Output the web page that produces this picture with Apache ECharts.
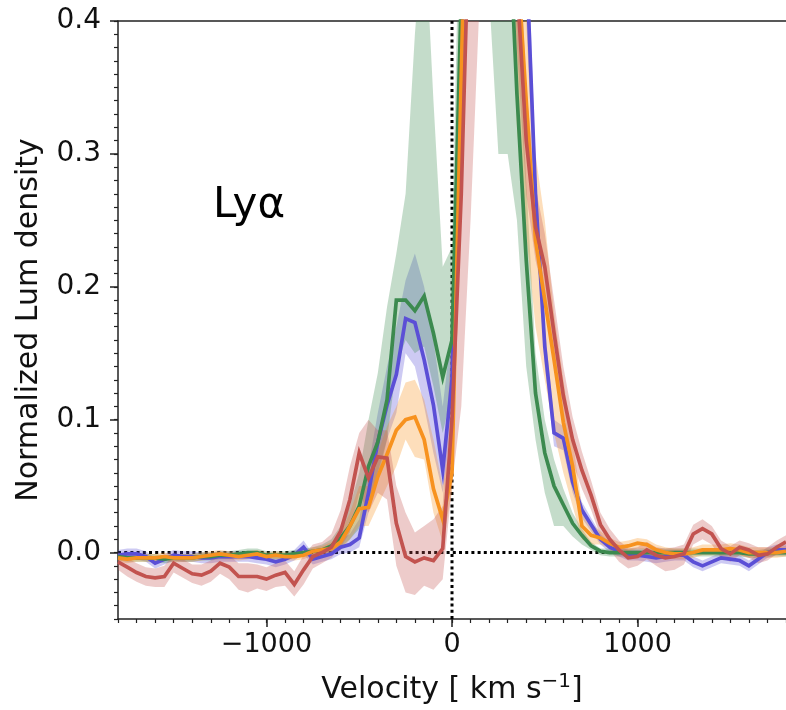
<!DOCTYPE html>
<html><head><meta charset="utf-8">
<script src="https://cdn.jsdelivr.net/npm/echarts@6/dist/echarts.min.js"></script>
<style>html,body{margin:0;padding:0;background:#fff}#c{width:786px;height:710px}</style>
</head><body><div id="c"></div>
<script>
// velocity grid (km/s), step 50
const velocity = [-1800,-1750,-1700,-1650,-1600,-1550,-1500,-1450,-1400,-1350,-1300,-1250,-1200,-1150,-1100,-1050,-1000,-950,-900,-850,-800,-750,-700,-650,-600,-550,-500,-450,-400,-350,-300,-250,-200,-150,-100,-50,0,50,100,150,200,250,300,350,400,450,500,550,600,650,700,750,800,850,900,950,1000,1050,1100,1150,1200,1250,1300,1350,1400,1450,1500,1550,1600,1650,1700,1750,1800];

const blueVal = [-0.002,-0.001,-0.001,-0.003,-0.008,-0.005,-0.002,-0.003,-0.003,-0.004,-0.004,-0.003,-0.003,-0.003,-0.003,-0.004,-0.005,-0.007,-0.005,-0.002,0.004,-0.005,-0.003,-0.001,0.004,0.006,0.011,0.045,0.083,0.111,0.134,0.176,0.173,0.145,0.111,0.062,0.130,0.380,0.650,0.850,0.950,1.000,0.850,0.650,0.450,0.270,0.155,0.090,0.086,0.053,0.032,0.021,0.010,0.004,0.001,-0.002,-0.002,-0.003,-0.004,-0.003,-0.002,-0.002,-0.007,-0.010,-0.007,-0.004,-0.005,-0.006,-0.010,-0.005,0.000,0.002,0.002];
const blueLo = [-0.006,-0.005,-0.005,-0.007,-0.012,-0.009,-0.006,-0.007,-0.007,-0.008,-0.008,-0.007,-0.007,-0.007,-0.007,-0.008,-0.009,-0.011,-0.009,-0.006,-0.001,-0.009,-0.007,-0.005,-0.001,0.000,0.004,0.030,0.060,0.085,0.105,0.150,0.140,0.110,0.075,0.045,0.100,0.300,0.550,0.750,0.880,0.950,0.800,0.600,0.400,0.250,0.140,0.080,0.077,0.045,0.026,0.016,0.006,0.000,-0.003,-0.006,-0.006,-0.007,-0.008,-0.007,-0.006,-0.006,-0.011,-0.014,-0.011,-0.008,-0.009,-0.010,-0.014,-0.009,-0.004,-0.002,-0.002];
const blueHi = [0.002,0.003,0.003,0.001,-0.004,-0.001,0.002,0.001,0.001,0.000,0.000,0.001,0.001,0.001,0.001,0.000,-0.001,-0.003,-0.001,0.002,0.009,-0.001,0.001,0.004,0.010,0.014,0.025,0.065,0.105,0.140,0.170,0.205,0.225,0.200,0.160,0.110,0.170,0.450,0.750,0.950,1.020,1.050,0.900,0.700,0.500,0.290,0.170,0.100,0.095,0.060,0.038,0.026,0.014,0.008,0.005,0.002,0.002,0.001,0.000,0.001,0.002,0.002,-0.003,-0.006,-0.003,0.000,-0.001,-0.002,-0.006,-0.001,0.004,0.006,0.006];

const greenVal = [-0.003,-0.004,-0.004,-0.004,-0.004,-0.005,-0.004,-0.004,-0.004,-0.003,-0.003,-0.002,-0.002,-0.001,0.000,0.000,-0.002,-0.002,-0.002,-0.001,0.000,0.001,0.002,0.005,0.011,0.020,0.035,0.065,0.083,0.115,0.190,0.190,0.182,0.193,0.165,0.132,0.160,0.420,0.700,0.900,1.000,0.850,0.500,0.345,0.220,0.120,0.075,0.050,0.036,0.022,0.013,0.005,0.001,0.000,0.000,0.000,0.000,0.000,0.000,0.000,0.000,0.000,0.000,0.000,0.000,0.000,0.000,0.000,-0.001,-0.001,0.000,0.000,0.000];
const greenLo = [-0.006,-0.007,-0.007,-0.007,-0.007,-0.008,-0.007,-0.007,-0.007,-0.006,-0.006,-0.005,-0.005,-0.004,-0.003,-0.003,-0.005,-0.005,-0.005,-0.004,-0.003,-0.002,-0.001,0.000,0.004,0.010,0.018,0.040,0.055,0.085,0.140,0.160,0.150,0.155,0.125,0.090,0.120,0.300,0.550,0.700,0.420,0.300,0.300,0.250,0.140,0.085,0.045,0.020,0.020,0.012,0.006,0.002,-0.002,-0.003,-0.003,-0.003,-0.003,-0.003,-0.003,-0.003,-0.003,-0.003,-0.003,-0.003,-0.003,-0.003,-0.003,-0.003,-0.004,-0.004,-0.003,-0.003,-0.003];
const greenHi = [0.000,-0.001,-0.001,-0.001,-0.001,-0.002,-0.001,-0.001,-0.001,0.000,0.000,0.001,0.001,0.002,0.003,0.003,0.001,0.001,0.001,0.002,0.003,0.004,0.006,0.010,0.020,0.035,0.060,0.100,0.135,0.185,0.225,0.270,0.390,0.480,0.340,0.215,0.230,0.550,0.850,1.000,1.050,1.000,0.700,0.420,0.280,0.150,0.100,0.070,0.048,0.030,0.018,0.008,0.003,0.003,0.003,0.003,0.003,0.003,0.003,0.003,0.003,0.003,0.003,0.003,0.003,0.003,0.003,0.003,0.002,0.002,0.003,0.003,0.003];

const orangeVal = [-0.004,-0.005,-0.004,-0.004,-0.004,-0.003,-0.004,-0.004,-0.004,-0.003,-0.002,-0.001,-0.002,-0.003,-0.002,-0.001,-0.003,-0.002,-0.003,-0.003,-0.002,0.001,0.002,0.003,0.008,0.020,0.033,0.034,0.057,0.074,0.092,0.100,0.102,0.085,0.048,0.025,0.060,0.360,0.650,0.900,1.000,0.950,0.750,0.450,0.340,0.235,0.190,0.145,0.098,0.065,0.020,0.013,0.011,0.007,0.004,0.005,0.007,0.006,0.002,0.000,-0.001,-0.001,0.000,0.002,0.002,0.002,0.003,0.002,0.000,0.000,0.000,0.000,0.001];
const orangeLo = [-0.007,-0.008,-0.007,-0.007,-0.007,-0.006,-0.007,-0.007,-0.007,-0.006,-0.005,-0.004,-0.005,-0.006,-0.005,-0.004,-0.006,-0.005,-0.006,-0.006,-0.005,-0.002,-0.001,-0.001,0.002,0.010,0.020,0.020,0.035,0.050,0.065,0.085,0.072,0.070,0.030,0.008,0.045,0.280,0.550,0.800,0.900,0.800,0.550,0.320,0.240,0.170,0.130,0.090,0.060,0.035,0.010,0.006,0.006,0.003,0.000,0.001,0.003,0.002,-0.002,-0.004,-0.005,-0.005,-0.004,-0.002,-0.002,-0.002,-0.001,-0.002,-0.004,-0.004,-0.004,-0.004,-0.003];
const orangeHi = [-0.001,-0.002,-0.001,-0.001,-0.001,0.000,-0.001,-0.001,-0.001,0.000,0.001,0.002,0.001,0.000,0.001,0.002,0.000,0.001,0.000,0.000,0.001,0.004,0.005,0.008,0.015,0.030,0.050,0.050,0.075,0.095,0.110,0.128,0.130,0.115,0.085,0.050,0.090,0.450,0.750,1.000,1.050,1.020,0.850,0.550,0.420,0.300,0.250,0.180,0.130,0.085,0.035,0.022,0.016,0.011,0.008,0.009,0.011,0.010,0.006,0.004,0.003,0.003,0.004,0.006,0.006,0.006,0.007,0.006,0.004,0.004,0.004,0.004,0.005];

const redVal = [-0.007,-0.011,-0.015,-0.018,-0.019,-0.018,-0.008,-0.012,-0.016,-0.017,-0.014,-0.008,-0.011,-0.018,-0.018,-0.018,-0.020,-0.017,-0.015,-0.024,-0.013,-0.003,0.000,0.004,0.016,0.040,0.075,0.056,0.072,0.071,0.022,-0.003,-0.007,-0.004,-0.006,0.003,0.100,0.270,0.520,0.800,0.950,0.900,0.700,0.430,0.310,0.245,0.215,0.165,0.118,0.085,0.062,0.043,0.021,0.010,0.002,-0.004,-0.003,0.002,-0.002,-0.004,-0.003,-0.001,0.014,0.018,0.014,0.003,-0.001,0.004,0.002,-0.002,-0.001,0.004,0.008];
const redLo = [-0.013,-0.018,-0.022,-0.025,-0.026,-0.026,-0.015,-0.019,-0.023,-0.025,-0.022,-0.016,-0.020,-0.028,-0.030,-0.027,-0.029,-0.026,-0.025,-0.033,-0.024,-0.012,-0.008,-0.004,0.004,0.015,0.045,0.030,0.045,0.040,-0.010,-0.030,-0.032,-0.025,-0.028,-0.020,0.050,0.110,0.250,0.420,0.650,0.700,0.550,0.380,0.270,0.220,0.190,0.140,0.095,0.068,0.048,0.032,0.012,0.002,-0.007,-0.012,-0.010,-0.005,-0.010,-0.014,-0.013,-0.009,0.006,0.010,0.006,-0.004,-0.007,-0.002,-0.004,-0.008,-0.006,-0.001,0.003];
const redHi = [0.000,-0.004,-0.008,-0.011,-0.012,-0.010,-0.001,-0.005,-0.009,-0.009,-0.006,0.000,-0.002,-0.008,-0.008,-0.009,-0.011,-0.008,-0.006,-0.014,-0.002,0.006,0.008,0.014,0.032,0.065,0.090,0.100,0.092,0.092,0.050,0.030,0.015,0.020,0.025,0.035,0.170,0.420,0.700,0.950,1.000,1.000,0.850,0.500,0.350,0.275,0.240,0.190,0.140,0.102,0.076,0.054,0.030,0.018,0.009,0.003,0.004,0.008,0.004,0.003,0.004,0.006,0.021,0.025,0.020,0.009,0.005,0.009,0.007,0.004,0.004,0.009,0.013];

const xTickLabels = [-1000, 0, 1000];
const yTickLabels = [0, 0.1, 0.2, 0.3, 0.4];

const COLORS = {blue:'#5b4fd6', green:'#3c8a4f', orange:'#f7921f', red:'#c2534f'};
const FONT = 'DejaVu Sans';

function bandSeries(lo, hi, color) {
  return {
    type: 'custom', xAxisIndex: 0, yAxisIndex: 0, silent: true, z: 2,
    data: [[0, 0]],
    renderItem: function (params, api) {
      const pts = [];
      for (let i = 0; i < velocity.length; i++) pts.push(api.coord([velocity[i], hi[i]]));
      for (let i = velocity.length - 1; i >= 0; i--) pts.push(api.coord([velocity[i], lo[i]]));
      const cs = params.coordSys;
      return {
        type: 'polygon', shape: {points: pts},
        style: {fill: color, opacity: 0.3},
        clipPath: {type: 'rect', shape: {x: cs.x, y: cs.y, width: cs.width, height: cs.height}}
      };
    }
  };
}
function lineSeries(vals, color) {
  return {
    type: 'line', xAxisIndex: 0, yAxisIndex: 0, z: 3,
    data: velocity.map((v, i) => [v, vals[i]]),
    showSymbol: false, symbol: 'none', clip: true,
    lineStyle: {color: color, width: 3.7, join: 'miter'}
  };
}
const dotted = {type: [3, 3.2], color: '#000', width: 3};

const chart = echarts.init(document.getElementById('c'), null, {renderer: 'canvas'});
chart.setOption({
  animation: false,
  backgroundColor: '#fff',
  grid: {left: 118, top: 21, width: 673, height: 602, containLabel: false},
  xAxis: [
    {type: 'value', min: -1800, max: 1800, interval: 100, position: 'bottom',
     axisLine: {show: true, onZero: false, lineStyle: {color: '#222', width: 1.5}},
     axisTick: {show: true, inside: false, length: 4, lineStyle: {color: '#222', width: 1.2}},
     axisLabel: {show: false}, splitLine: {show: false}},
    {type: 'value', min: -1800, max: 1800, position: 'bottom',
     axisLine: {show: false, onZero: false},
     axisTick: {show: true, length: 8, customValues: xTickLabels, lineStyle: {color: '#222', width: 1.5}},
     axisLabel: {show: true, customValues: xTickLabels, margin: 12, color: '#111', fontSize: 27, fontFamily: FONT,
       formatter: v => String(v).replace('-', '\u2212')},
     splitLine: {show: false},
     name: 'Velocity [ km s{sup|\u22121}]', nameLocation: 'middle', nameGap: 53,
     nameTextStyle: {color: '#111', fontSize: 30, fontFamily: FONT,
       rich: {sup: {fontSize: 20, verticalAlign: 'top', padding: [0, 0, 16, 0], fontFamily: FONT, color: '#111'}}}},
    {type: 'value', min: -1800, max: 1800, position: 'top',
     axisLine: {show: true, onZero: false, lineStyle: {color: '#222', width: 1.5}},
     axisTick: {show: false}, axisLabel: {show: false}, splitLine: {show: false}}
  ],
  yAxis: [
    {type: 'value', min: -0.05, max: 0.4, interval: 0.01, position: 'left',
     axisLine: {show: true, onZero: false, lineStyle: {color: '#222', width: 1.5}},
     axisTick: {show: true, inside: false, length: 4, lineStyle: {color: '#222', width: 1.2}},
     axisLabel: {show: false}, splitLine: {show: false}},
    {type: 'value', min: -0.05, max: 0.4, position: 'left',
     axisLine: {show: false, onZero: false},
     axisTick: {show: true, length: 8, customValues: yTickLabels, lineStyle: {color: '#222', width: 1.5}},
     axisLabel: {show: true, customValues: yTickLabels, margin: 17, color: '#111', fontSize: 28, fontFamily: FONT,
       formatter: v => Number(v).toFixed(1)},
     splitLine: {show: false},
     name: 'Normalized Lum density', nameLocation: 'middle', nameGap: 74, nameRotate: 90,
     nameTextStyle: {color: '#111', fontSize: 30, fontFamily: FONT}}
  ],
  graphic: [{type: 'text', left: 213, top: 185, z: 10,
    style: {text: 'Ly\u03b1', fontSize: 42, fontFamily: FONT, fill: '#000'}}],
  series: [
    {type: 'line', xAxisIndex: 0, yAxisIndex: 0, z: 1, showSymbol: false, symbol: 'none',
     data: [[-1800, 0], [1800, 0]], lineStyle: dotted},
    {type: 'line', xAxisIndex: 0, yAxisIndex: 0, z: 1, showSymbol: false, symbol: 'none',
     data: [[0, -0.05], [0, 0.4]], lineStyle: dotted},
    bandSeries(blueLo, blueHi, COLORS.blue),
    bandSeries(greenLo, greenHi, COLORS.green),
    bandSeries(orangeLo, orangeHi, COLORS.orange),
    bandSeries(redLo, redHi, COLORS.red),
    lineSeries(blueVal, COLORS.blue),
    lineSeries(greenVal, COLORS.green),
    lineSeries(orangeVal, COLORS.orange),
    lineSeries(redVal, COLORS.red)
  ]
});
</script></body></html>
